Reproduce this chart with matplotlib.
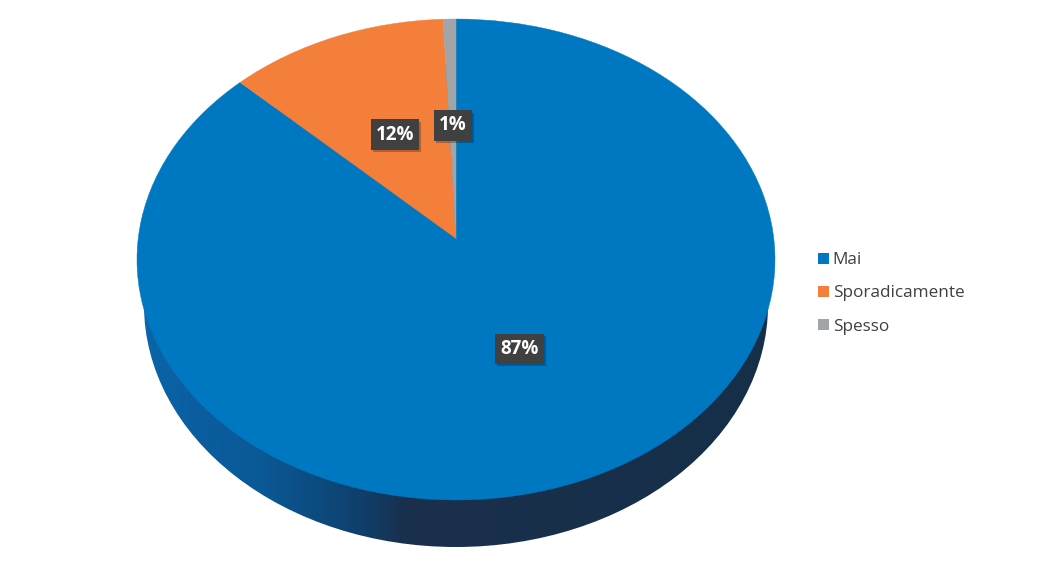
import matplotlib
matplotlib.use('Agg')
import matplotlib.pyplot as plt
import matplotlib.patheffects as pe
from matplotlib.colors import LinearSegmentedColormap
from matplotlib.patches import Ellipse, PathPatch, Patch
from matplotlib.path import Path
import numpy as np

categories = ['Mai', 'Sporadicamente', 'Spesso']
shares = [87.2, 12.1, 0.7]
share_labels = ['87%', '12%', '1%']
colors = ['#0078c1', '#f47f3a', '#a2a5a8']

plt.rcParams['font.family'] = ['Open Sans', 'DejaVu Sans']

fig = plt.figure(figsize=(10.57, 5.88), dpi=100)
ax = fig.add_axes([0, 0, 1, 1])

# pie on the unit circle, then tilted by hand into pixel space
wedges, _ = ax.pie(shares, colors=colors, startangle=90, counterclock=False,
                   radius=1, center=(0, 0), frame=True)

cx, cy = 456, 259.5
a, b = 317.8, 240.5
g = 0.0873


def tilt(verts):
    x, y = verts[:, 0], verts[:, 1]
    w = 1 + g * y
    return np.column_stack([cx + a * x / w, cy - (b * y + b * g) / w])


paths = [Path(tilt(w.get_path().vertices), w.get_path().codes) for w in wedges]
for w in wedges:
    w.remove()

# side wall, lower ellipse with a left to right gradient
wall_cmap = LinearSegmentedColormap.from_list('wall', [
    (0.0, '#0a65aa'), (0.09, '#0a5d9e'), (0.18, '#0a5a98'), (0.28, '#0c4a7e'),
    (0.36, '#113d67'), (0.42, '#1a2f4c'), (1.0, '#162f49')])
wall_shape = Ellipse((456, 305), 624, 484, fc='none', ec='none')
ax.add_patch(wall_shape)
im = ax.imshow(np.linspace(0, 1, 512)[None, :], cmap=wall_cmap, aspect='auto',
               extent=(144, 768, 547, 63), zorder=1)
im.set_clip_path(wall_shape)

for p, c in zip(paths, colors):
    ax.add_patch(PathPatch(p, fc=c, ec=c, lw=0.3, zorder=2))

ax.set_xlim(0, 1057)
ax.set_ylim(588, 0)
ax.axis('off')

# value labels
label_xy = [(519.5, 349), (395, 134.5), (453, 125.5)]
for (lx, ly), s in zip(label_xy, share_labels):
    t = ax.text(lx, ly, s, color='white', fontsize=13.5, fontweight='bold',
                ha='center', va='center', zorder=4,
                bbox=dict(boxstyle='square,pad=0.27', fc='#404040', ec='none'))
    t.get_bbox_patch().set_path_effects([
        pe.withSimplePatchShadow(offset=(1.5, -1.5), shadow_rgbFace='k', alpha=0.25),
        pe.Normal()])

handles = [Patch(fc=c, ec='none') for c in colors]
ax.legend(handles, categories, loc='center left', bbox_to_anchor=(813 / 1057, 1 - 293.5 / 588),
          frameon=False, fontsize=12.3, labelcolor='#404040', handlelength=0.65,
          handleheight=0.65, handletextpad=0.2, labelspacing=1.0, borderpad=0.3,
          borderaxespad=0)

fig.savefig('out.png', dpi=100)
